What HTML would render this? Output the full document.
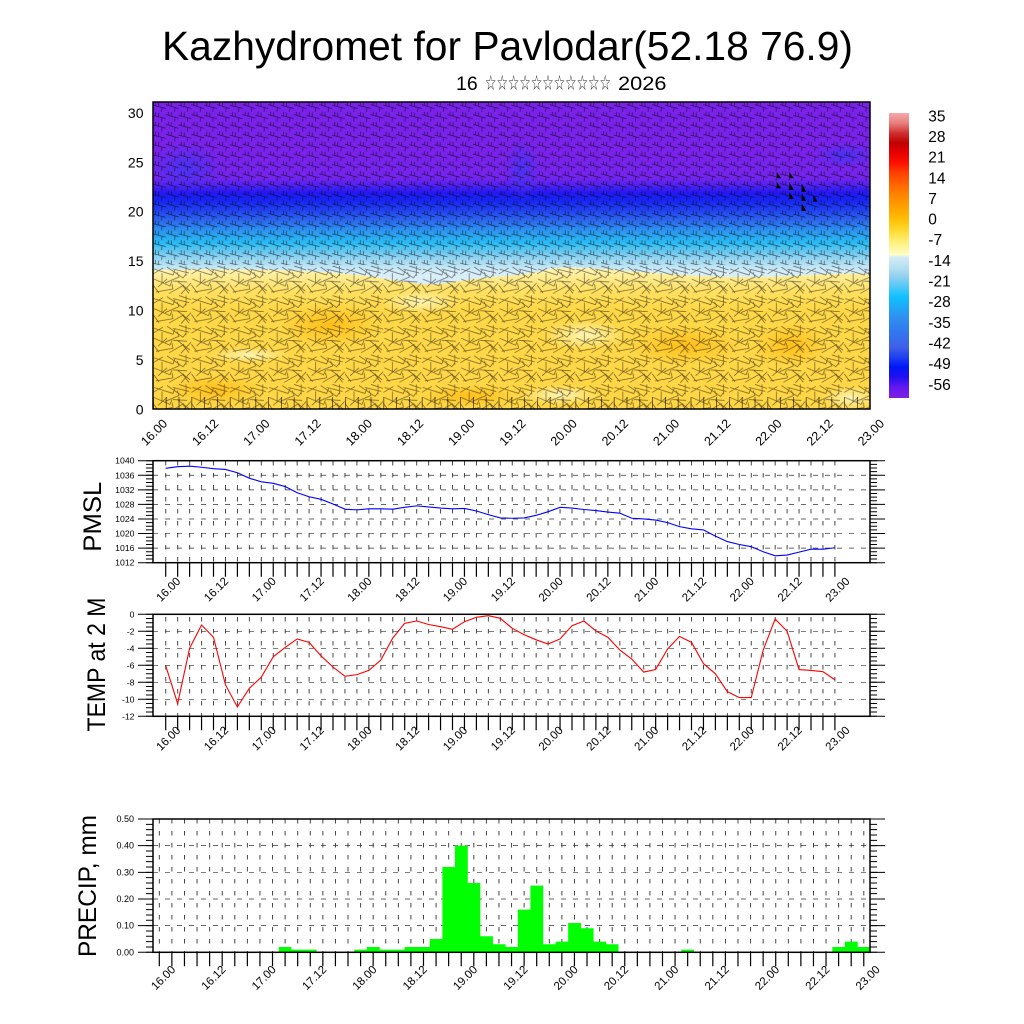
<!DOCTYPE html>
<html>
<head>
<meta charset="utf-8">
<style>
html,body{margin:0;padding:0;background:#fff;}
svg{display:block;}
text{font-family:"Liberation Sans",Arial,sans-serif;fill:#000;}
</style>
</head>
<body>
<svg width="1024" height="1024" viewBox="0 0 1024 1024" xmlns="http://www.w3.org/2000/svg">
<defs>
  <clipPath id="cTop"><rect x="153" y="102" width="717" height="307"/></clipPath>
  <linearGradient id="gBlue" gradientUnits="userSpaceOnUse" x1="0" y1="102" x2="0" y2="409">
    <stop offset="0" stop-color="#7a22ea"/>
    <stop offset="0.156" stop-color="#7a22ea"/>
    <stop offset="0.248" stop-color="#7424ec"/>
    <stop offset="0.274" stop-color="#4c22f0"/>
    <stop offset="0.296" stop-color="#2418f4"/>
    <stop offset="0.319" stop-color="#1624f2"/>
    <stop offset="0.352" stop-color="#2040f0"/>
    <stop offset="0.384" stop-color="#2c64ee"/>
    <stop offset="0.423" stop-color="#2c98f0"/>
    <stop offset="0.459" stop-color="#28bcf4"/>
    <stop offset="0.489" stop-color="#6cc8f0"/>
    <stop offset="0.521" stop-color="#a8dcf2"/>
    <stop offset="0.554" stop-color="#d8eef8"/>
    <stop offset="1" stop-color="#e8f4f8"/>
  </linearGradient>
  <linearGradient id="gYel" gradientUnits="userSpaceOnUse" x1="0" y1="266" x2="0" y2="409">
    <stop offset="0" stop-color="#fff6c0"/>
    <stop offset="0.08" stop-color="#ffec90"/>
    <stop offset="0.18" stop-color="#ffe060"/>
    <stop offset="0.30" stop-color="#ffd848"/>
    <stop offset="1" stop-color="#ffd646"/>
  </linearGradient>
  <radialGradient id="rOrg">
    <stop offset="0" stop-color="#ffbc14" stop-opacity="0.9"/>
    <stop offset="1" stop-color="#ffbc14" stop-opacity="0"/>
  </radialGradient>
  <radialGradient id="rLite">
    <stop offset="0" stop-color="#fff6b8" stop-opacity="0.95"/>
    <stop offset="1" stop-color="#fff6b8" stop-opacity="0"/>
  </radialGradient>
  <radialGradient id="rBlu">
    <stop offset="0" stop-color="#4434f2" stop-opacity="0.9"/>
    <stop offset="1" stop-color="#4434f2" stop-opacity="0"/>
  </radialGradient>
  <linearGradient id="gCbar" gradientUnits="userSpaceOnUse" x1="0" y1="113" x2="0" y2="398">
    <stop offset="0" stop-color="#f7a8a8"/>
    <stop offset="0.035" stop-color="#e88080"/>
    <stop offset="0.07" stop-color="#d03030"/>
    <stop offset="0.105" stop-color="#c00000"/>
    <stop offset="0.14" stop-color="#e80000"/>
    <stop offset="0.175" stop-color="#ff1000"/>
    <stop offset="0.21" stop-color="#ff4000"/>
    <stop offset="0.246" stop-color="#ff6000"/>
    <stop offset="0.281" stop-color="#ff8000"/>
    <stop offset="0.316" stop-color="#ff9800"/>
    <stop offset="0.351" stop-color="#ffb000"/>
    <stop offset="0.386" stop-color="#ffc810"/>
    <stop offset="0.421" stop-color="#ffe040"/>
    <stop offset="0.456" stop-color="#fff080"/>
    <stop offset="0.498" stop-color="#fffcc8"/>
    <stop offset="0.505" stop-color="#d4ecf8"/>
    <stop offset="0.54" stop-color="#b8e0f0"/>
    <stop offset="0.575" stop-color="#90d0f0"/>
    <stop offset="0.61" stop-color="#50c8f8"/>
    <stop offset="0.646" stop-color="#10c0ff"/>
    <stop offset="0.681" stop-color="#20a8f8"/>
    <stop offset="0.716" stop-color="#3090f0"/>
    <stop offset="0.768" stop-color="#3078f0"/>
    <stop offset="0.821" stop-color="#4060e8"/>
    <stop offset="0.856" stop-color="#2040f0"/>
    <stop offset="0.891" stop-color="#0018f8"/>
    <stop offset="0.926" stop-color="#2010f0"/>
    <stop offset="0.961" stop-color="#6018f0"/>
    <stop offset="1" stop-color="#8020e0"/>
  </linearGradient>
  <pattern id="pA" patternUnits="userSpaceOnUse" x="153" y="102" width="25.6" height="19.74">
    <path d="M0 3.2 L12.8 6.4 M2.6 3.85 L2.6 -0.5 M5.6 4.6 L5.6 0.6 M9 5.4 L8.6 9.87
             M12.8 2.6 L25.6 6.6 M15.4 3.4 L15.4 -0.5 M18.4 4.3 L18.4 0.4 M22 5.6 L21.6 9.87
             M0 13.4 L12.8 16.6 M2.6 14 L2.6 9.9 M5.6 14.8 L5.6 10.6 M9 15.6 L8.6 19.74
             M12.8 12.6 L25.6 16.2 M15.4 13.3 L15.4 9.8 M18.4 14.2 L18.4 10.3 M22 15.3 L21.6 19.74"
          stroke="#000" stroke-width="0.7" stroke-opacity="0.62" fill="none"/>
  </pattern>
  <pattern id="pB" patternUnits="userSpaceOnUse" x="153" y="265" width="38.4" height="29.61">
    <path d="M1 4 L20 10 L22 5 M14 2 L30 13 L33 9 M26 1 L38 5 M1 14 L17 21 L19 16 M12 18 L26 12 L24 7 M24 16 L37 26 M3 27 L20 24 L19 19 M16 28.5 L31 20 M30 21 L36 28.5 M9 8 L9 19 M33 1 L33 11 M0 20 L6 28 M20 4 L36 8 M5 22 L14 14 M0 9 L10 3 M28 29 L38 18 M20 16 L34 17" stroke="#000" stroke-width="0.7" stroke-opacity="0.58" fill="none"/>
  </pattern>
  <pattern id="pVa" patternUnits="userSpaceOnUse" x="165.25" y="461" width="11.95" height="12">
    <rect x="0" y="0" width="0.9" height="4.5" fill="#333"/>
  </pattern>
  <pattern id="pVb" patternUnits="userSpaceOnUse" x="158.85" y="819" width="12.58" height="12">
    <rect x="0" y="0" width="0.9" height="4.5" fill="#333"/>
  </pattern>
</defs>

<!-- Title -->
<text x="507.5" y="60" text-anchor="middle" font-size="41" textLength="691" lengthAdjust="spacingAndGlyphs">Kazhydromet for Pavlodar(52.18 76.9)</text>
<text x="456" y="90" font-size="19.5">16</text>
<text x="485" y="90" font-size="21" textLength="126" lengthAdjust="spacingAndGlyphs" style="font-family:'DejaVu Sans',sans-serif;fill:#222">☆☆☆☆☆☆☆☆☆☆☆</text>
<text x="618" y="90" font-size="19.5" textLength="48.5" lengthAdjust="spacingAndGlyphs">2026</text>

<!-- ===== Top panel ===== -->
<g clip-path="url(#cTop)">
<rect x="153" y="102" width="717" height="307" fill="url(#gBlue)"/>
<ellipse cx="185" cy="168" rx="38" ry="26" fill="url(#rBlu)"/>
<ellipse cx="522" cy="170" rx="18" ry="32" fill="url(#rBlu)"/>
<ellipse cx="845" cy="155" rx="32" ry="13" fill="url(#rBlu)"/>
<path d="M153 270 C250 268 330 270 380 278 S430 286 460 281 S520 277 545 270 S620 272 700 276 S820 272 870 274 L870 409 L153 409 Z" fill="url(#gYel)"/>
<ellipse cx="330" cy="325" rx="52" ry="22" fill="url(#rOrg)"/>
<ellipse cx="685" cy="345" rx="58" ry="20" fill="url(#rOrg)"/>
<ellipse cx="790" cy="345" rx="38" ry="22" fill="url(#rOrg)"/>
<ellipse cx="215" cy="390" rx="48" ry="15" fill="url(#rOrg)"/>
<ellipse cx="470" cy="396" rx="48" ry="11" fill="url(#rOrg)"/>
<ellipse cx="585" cy="335" rx="42" ry="15" fill="url(#rLite)"/>
<ellipse cx="850" cy="398" rx="28" ry="12" fill="url(#rLite)"/>
<ellipse cx="420" cy="302" rx="40" ry="12" fill="url(#rLite)"/>
<ellipse cx="560" cy="395" rx="40" ry="10" fill="url(#rLite)"/>
<ellipse cx="250" cy="355" rx="40" ry="8" fill="url(#rLite)"/>
<rect x="153" y="102" width="717" height="163" fill="url(#pA)"/>
<rect x="153" y="265" width="717" height="144" fill="url(#pB)"/>
<line x1="153" y1="403" x2="870" y2="403" stroke="#000" stroke-opacity="0.7" stroke-width="12" stroke-dasharray="0.8 12"/>
</g>
<g fill="#000">
  <polygon points="776.7,171.7 776.7,178.3 781.2,178.3"/>
  <polygon points="776.7,181.7 776.7,188.3 781.2,188.3"/>
  <polygon points="789.3,171.7 789.3,178.3 793.8,178.3"/>
  <polygon points="789.3,182 789.3,190 793.8,190"/>
  <polygon points="789.3,191.7 789.3,199 793.8,199"/>
  <polygon points="801.7,183.3 801.7,191.7 806.2,191.7"/>
  <polygon points="801.7,193.3 801.7,201 806.2,201"/>
  <polygon points="801.7,203.3 801.7,211 806.2,211"/>
  <polygon points="813.3,195 813.3,201.7 817.8,201.7"/>
</g>
<rect x="153" y="102" width="717" height="307" fill="none" stroke="#000" stroke-width="1.5"/>

<g font-size="14" text-anchor="end">
  <text x="143.5" y="414.5">0</text>
  <text x="143.5" y="365">5</text>
  <text x="143.5" y="315.6">10</text>
  <text x="143.5" y="266.2">15</text>
  <text x="143.5" y="216.7">20</text>
  <text x="143.5" y="167.3">25</text>
  <text x="143.5" y="117.8">30</text>
</g>
<g font-size="12.5" text-anchor="middle" dominant-baseline="central">
  <text x="154.2" y="432.5" transform="rotate(-45 154.2 432.5)">16.00</text>
  <text x="205.4" y="432.5" transform="rotate(-45 205.4 432.5)">16.12</text>
  <text x="256.6" y="432.5" transform="rotate(-45 256.6 432.5)">17.00</text>
  <text x="307.8" y="432.5" transform="rotate(-45 307.8 432.5)">17.12</text>
  <text x="359" y="432.5" transform="rotate(-45 359 432.5)">18.00</text>
  <text x="410.3" y="432.5" transform="rotate(-45 410.3 432.5)">18.12</text>
  <text x="461.5" y="432.5" transform="rotate(-45 461.5 432.5)">19.00</text>
  <text x="512.7" y="432.5" transform="rotate(-45 512.7 432.5)">19.12</text>
  <text x="563.9" y="432.5" transform="rotate(-45 563.9 432.5)">20.00</text>
  <text x="615.1" y="432.5" transform="rotate(-45 615.1 432.5)">20.12</text>
  <text x="666.3" y="432.5" transform="rotate(-45 666.3 432.5)">21.00</text>
  <text x="717.5" y="432.5" transform="rotate(-45 717.5 432.5)">21.12</text>
  <text x="768.7" y="432.5" transform="rotate(-45 768.7 432.5)">22.00</text>
  <text x="819.9" y="432.5" transform="rotate(-45 819.9 432.5)">22.12</text>
  <text x="871.1" y="432.5" transform="rotate(-45 871.1 432.5)">23.00</text>
</g>

<!-- Colorbar -->
<rect x="889" y="113" width="20" height="285" fill="url(#gCbar)"/>
<g font-size="15.5">
  <text x="928.3" y="121.3">35</text>
  <text x="928.3" y="142">28</text>
  <text x="928.3" y="162.6">21</text>
  <text x="928.3" y="183.3">14</text>
  <text x="928.3" y="203.9">7</text>
  <text x="928.3" y="224.6">0</text>
  <text x="928.3" y="245.2">-7</text>
  <text x="928.3" y="265.9">-14</text>
  <text x="928.3" y="286.5">-21</text>
  <text x="928.3" y="307.2">-28</text>
  <text x="928.3" y="327.8">-35</text>
  <text x="928.3" y="348.5">-42</text>
  <text x="928.3" y="369.1">-49</text>
  <text x="928.3" y="389.8">-56</text>
</g>

<!-- ===== PMSL panel ===== -->
<rect x="164" y="461" width="672" height="101.5" fill="url(#pVa)"/>
<g stroke="#333" stroke-width="0.7" stroke-dasharray="5 7">
  <line x1="153" y1="548.13" x2="870" y2="548.13"/>
  <line x1="153" y1="533.56" x2="870" y2="533.56"/>
  <line x1="153" y1="518.99" x2="870" y2="518.99"/>
  <line x1="153" y1="504.41" x2="870" y2="504.41"/>
  <line x1="153" y1="489.84" x2="870" y2="489.84"/>
  <line x1="153" y1="475.27" x2="870" y2="475.27"/>
</g>
<polyline transform="translate(165.7 562.7) scale(11.95 -3.6429)" fill="none" stroke="#0000ff" stroke-width="1.1" vector-effect="non-scaling-stroke"
 points="0,25.9 1,26.35 2,26.5 3,26.2 4,25.8 5,25.6 6,24.7 7,23.2 8,22.2 9,21.8 10,20.9 11,19.2 12,18.1 13,17.4 14,16.1 15,14.7 16,14.5 17,14.8 18,14.8 19,14.7 20,15.2 21,15.6 22,15.3 23,15.0 24,14.8 25,14.9 26,14.2 27,13.2 28,12.3 29,12.2 30,12.3 31,13.0 32,14.0 33,15.2 34,15.0 35,14.6 36,14.3 37,13.9 38,13.6 39,12.2 40,12.0 41,11.7 42,11.0 43,9.9 44,9.3 45,9.0 46,7.3 47,5.8 48,5.0 49,4.4 50,3.0 51,1.9 52,2.1 53,2.9 54,3.7 55,3.7 56,4.1"/>
<g stroke="#000">
  <line x1="165.1" y1="569.7" x2="836" y2="569.7" stroke-width="14" stroke-dasharray="1.2 10.75"/>
  <line x1="145.5" y1="460.2" x2="145.5" y2="563.5" stroke-width="15" stroke-dasharray="1 13.5714"/>
  <line x1="149.5" y1="460.2" x2="149.5" y2="563.5" stroke-width="7" stroke-dasharray="1 2.6429"/>
  <line x1="877.5" y1="460.2" x2="877.5" y2="563.5" stroke-width="15" stroke-dasharray="1 13.5714"/>
  <line x1="873.5" y1="460.2" x2="873.5" y2="563.5" stroke-width="7" stroke-dasharray="1 2.6429"/>
</g>
<rect x="153" y="460.7" width="717" height="102" fill="none" stroke="#000" stroke-width="1.5"/>
<g font-size="8.7" text-anchor="end">
  <text x="134.5" y="565.7">1012</text>
  <text x="134.5" y="551.1">1016</text>
  <text x="134.5" y="536.6">1020</text>
  <text x="134.5" y="522">1024</text>
  <text x="134.5" y="507.4">1028</text>
  <text x="134.5" y="492.8">1032</text>
  <text x="134.5" y="478.3">1036</text>
  <text x="134.5" y="463.7">1040</text>
</g>
<text transform="translate(101 516.7) rotate(-90)" text-anchor="middle" font-size="25" textLength="70" lengthAdjust="spacingAndGlyphs">PMSL</text>
<g font-size="11.5" text-anchor="middle" dominant-baseline="central">
  <text x="168.9" y="590" transform="rotate(-45 168.9 590)">16.00</text>
  <text x="216.7" y="590" transform="rotate(-45 216.7 590)">16.12</text>
  <text x="264.5" y="590" transform="rotate(-45 264.5 590)">17.00</text>
  <text x="312.3" y="590" transform="rotate(-45 312.3 590)">17.12</text>
  <text x="360.1" y="590" transform="rotate(-45 360.1 590)">18.00</text>
  <text x="407.9" y="590" transform="rotate(-45 407.9 590)">18.12</text>
  <text x="455.7" y="590" transform="rotate(-45 455.7 590)">19.00</text>
  <text x="503.5" y="590" transform="rotate(-45 503.5 590)">19.12</text>
  <text x="551.3" y="590" transform="rotate(-45 551.3 590)">20.00</text>
  <text x="599.1" y="590" transform="rotate(-45 599.1 590)">20.12</text>
  <text x="646.9" y="590" transform="rotate(-45 646.9 590)">21.00</text>
  <text x="694.7" y="590" transform="rotate(-45 694.7 590)">21.12</text>
  <text x="742.5" y="590" transform="rotate(-45 742.5 590)">22.00</text>
  <text x="790.3" y="590" transform="rotate(-45 790.3 590)">22.12</text>
  <text x="838.1" y="590" transform="rotate(-45 838.1 590)">23.00</text>
</g>

<!-- ===== TEMP panel ===== -->
<rect x="164" y="614.5" width="672" height="101.5" fill="url(#pVa)"/>
<g stroke="#333" stroke-width="0.7" stroke-dasharray="5 7">
  <line x1="153" y1="631.3" x2="870" y2="631.3"/>
  <line x1="153" y1="648.3" x2="870" y2="648.3"/>
  <line x1="153" y1="665.3" x2="870" y2="665.3"/>
  <line x1="153" y1="682.3" x2="870" y2="682.3"/>
  <line x1="153" y1="699.3" x2="870" y2="699.3"/>
</g>
<polyline transform="translate(165.7 614.3) scale(11.95 8.5)" fill="none" stroke="#ff0000" stroke-width="1.1" vector-effect="non-scaling-stroke"
 points="0,6.05 1,10.5 2,4.0 3,1.26 4,2.7 5,8.3 6,10.9 7,8.7 8,7.4 9,5.0 10,3.9 11,2.9 12,3.3 13,4.9 14,6.2 15,7.3 16,7.1 17,6.6 18,5.4 19,2.8 20,1.06 21,0.79 22,1.2 23,1.46 24,1.76 25,0.87 26,0.35 27,0.16 28,0.47 29,1.65 30,2.4 31,3.0 32,3.5 33,2.9 34,1.34 35,0.79 36,1.96 37,2.7 38,4.2 39,5.26 40,6.8 41,6.5 42,4.08 43,2.6 44,3.3 45,5.8 46,7.0 47,9.1 48,9.8 49,9.8 50,4.2 51,0.55 52,2.0 53,6.5 54,6.6 55,6.75 56,7.7"/>
<g stroke="#000">
  <line x1="165.1" y1="723.3" x2="836" y2="723.3" stroke-width="14" stroke-dasharray="1.2 10.75"/>
  <line x1="145.5" y1="613.8" x2="145.5" y2="717" stroke-width="15" stroke-dasharray="1 16"/>
  <line x1="149.5" y1="613.8" x2="149.5" y2="717" stroke-width="7" stroke-dasharray="1 3.25"/>
  <line x1="877.5" y1="613.8" x2="877.5" y2="717" stroke-width="15" stroke-dasharray="1 16"/>
  <line x1="873.5" y1="613.8" x2="873.5" y2="717" stroke-width="7" stroke-dasharray="1 3.25"/>
</g>
<rect x="153" y="614.3" width="717" height="102" fill="none" stroke="#000" stroke-width="1.5"/>
<g font-size="8.7" text-anchor="end">
  <text x="134.5" y="617.3">0</text>
  <text x="134.5" y="634.3">-2</text>
  <text x="134.5" y="651.3">-4</text>
  <text x="134.5" y="668.3">-6</text>
  <text x="134.5" y="685.3">-8</text>
  <text x="134.5" y="702.3">-10</text>
  <text x="134.5" y="719.3">-12</text>
</g>
<text transform="translate(105 664.5) rotate(-90)" text-anchor="middle" font-size="25" textLength="134" lengthAdjust="spacingAndGlyphs">TEMP at 2 M</text>
<g font-size="11.5" text-anchor="middle" dominant-baseline="central">
  <text x="168.9" y="739" transform="rotate(-45 168.9 739)">16.00</text>
  <text x="216.7" y="739" transform="rotate(-45 216.7 739)">16.12</text>
  <text x="264.5" y="739" transform="rotate(-45 264.5 739)">17.00</text>
  <text x="312.3" y="739" transform="rotate(-45 312.3 739)">17.12</text>
  <text x="360.1" y="739" transform="rotate(-45 360.1 739)">18.00</text>
  <text x="407.9" y="739" transform="rotate(-45 407.9 739)">18.12</text>
  <text x="455.7" y="739" transform="rotate(-45 455.7 739)">19.00</text>
  <text x="503.5" y="739" transform="rotate(-45 503.5 739)">19.12</text>
  <text x="551.3" y="739" transform="rotate(-45 551.3 739)">20.00</text>
  <text x="599.1" y="739" transform="rotate(-45 599.1 739)">20.12</text>
  <text x="646.9" y="739" transform="rotate(-45 646.9 739)">21.00</text>
  <text x="694.7" y="739" transform="rotate(-45 694.7 739)">21.12</text>
  <text x="742.5" y="739" transform="rotate(-45 742.5 739)">22.00</text>
  <text x="790.3" y="739" transform="rotate(-45 790.3 739)">22.12</text>
  <text x="838.1" y="739" transform="rotate(-45 838.1 739)">23.00</text>
</g>

<!-- ===== PRECIP panel ===== -->
<rect x="158" y="819.5" width="707" height="132.5" fill="url(#pVb)"/>
<g stroke="#333" stroke-width="0.7" stroke-dasharray="5 7">
  <line x1="153" y1="925.64" x2="870" y2="925.64"/>
  <line x1="153" y1="898.98" x2="870" y2="898.98"/>
  <line x1="153" y1="872.32" x2="870" y2="872.32"/>
  <line x1="153" y1="845.66" x2="870" y2="845.66"/>
</g>
<g transform="translate(159.3 952.3) scale(12.58 -266.6)" fill="#00ff00">
  <path d="M9.5 0H10.5V0.02H9.5Z M10.48 0H12.5V0.01H10.48Z M15.5 0H16.52V0.01H15.5Z M16.5 0H17.52V0.02H16.5Z M17.5 0H19.52V0.01H17.5Z M19.5 0H21.52V0.02H19.5Z M21.5 0H22.52V0.05H21.5Z M22.5 0H23.52V0.32H22.5Z M23.5 0H24.52V0.40H23.5Z M24.5 0H25.52V0.26H24.5Z M25.5 0H26.52V0.06H25.5Z M26.5 0H27.52V0.03H26.5Z M27.5 0H28.52V0.02H27.5Z M28.5 0H29.52V0.16H28.5Z M29.5 0H30.52V0.25H29.5Z M30.5 0H31.52V0.03H30.5Z M31.5 0H32.52V0.04H31.5Z M32.5 0H33.52V0.11H32.5Z M33.5 0H34.52V0.09H33.5Z M34.5 0H35.52V0.04H34.5Z M35.5 0H36.5V0.03H35.5Z M41.5 0H42.5V0.01H41.5Z M53.5 0H54.52V0.02H53.5Z M54.5 0H55.52V0.04H54.5Z M55.5 0H56.5V0.02H55.5Z"/>
</g>
<g stroke="#000">
  <line x1="158.7" y1="959.3" x2="866" y2="959.3" stroke-width="14" stroke-dasharray="1.2 11.38"/>
  <line x1="145.5" y1="818.5" x2="145.5" y2="953" stroke-width="15" stroke-dasharray="1 25.66"/>
  <line x1="149.5" y1="818.5" x2="149.5" y2="953" stroke-width="7" stroke-dasharray="1 4.332"/>
  <line x1="877.5" y1="818.5" x2="877.5" y2="953" stroke-width="15" stroke-dasharray="1 25.66"/>
  <line x1="873.5" y1="818.5" x2="873.5" y2="953" stroke-width="7" stroke-dasharray="1 4.332"/>
</g>
<rect x="153" y="819" width="717" height="133.3" fill="none" stroke="#000" stroke-width="1.5"/>
<g font-size="9" text-anchor="end">
  <text x="134" y="955.3">0.00</text>
  <text x="134" y="928.6">0.10</text>
  <text x="134" y="902">0.20</text>
  <text x="134" y="875.3">0.30</text>
  <text x="134" y="848.7">0.40</text>
  <text x="134" y="822">0.50</text>
</g>
<text transform="translate(96 886) rotate(-90)" text-anchor="middle" font-size="25" textLength="142" lengthAdjust="spacingAndGlyphs">PRECIP, mm</text>
<g font-size="11.5" text-anchor="middle" dominant-baseline="central">
  <text x="163.8" y="978.3" transform="rotate(-45 163.8 978.3)">16.00</text>
  <text x="214.1" y="978.3" transform="rotate(-45 214.1 978.3)">16.12</text>
  <text x="264.4" y="978.3" transform="rotate(-45 264.4 978.3)">17.00</text>
  <text x="314.8" y="978.3" transform="rotate(-45 314.8 978.3)">17.12</text>
  <text x="365.1" y="978.3" transform="rotate(-45 365.1 978.3)">18.00</text>
  <text x="415.4" y="978.3" transform="rotate(-45 415.4 978.3)">18.12</text>
  <text x="465.7" y="978.3" transform="rotate(-45 465.7 978.3)">19.00</text>
  <text x="516.1" y="978.3" transform="rotate(-45 516.1 978.3)">19.12</text>
  <text x="566.4" y="978.3" transform="rotate(-45 566.4 978.3)">20.00</text>
  <text x="616.7" y="978.3" transform="rotate(-45 616.7 978.3)">20.12</text>
  <text x="667" y="978.3" transform="rotate(-45 667 978.3)">21.00</text>
  <text x="717.4" y="978.3" transform="rotate(-45 717.4 978.3)">21.12</text>
  <text x="767.7" y="978.3" transform="rotate(-45 767.7 978.3)">22.00</text>
  <text x="818" y="978.3" transform="rotate(-45 818 978.3)">22.12</text>
  <text x="868.3" y="978.3" transform="rotate(-45 868.3 978.3)">23.00</text>
</g>
</svg>
</body>
</html>
